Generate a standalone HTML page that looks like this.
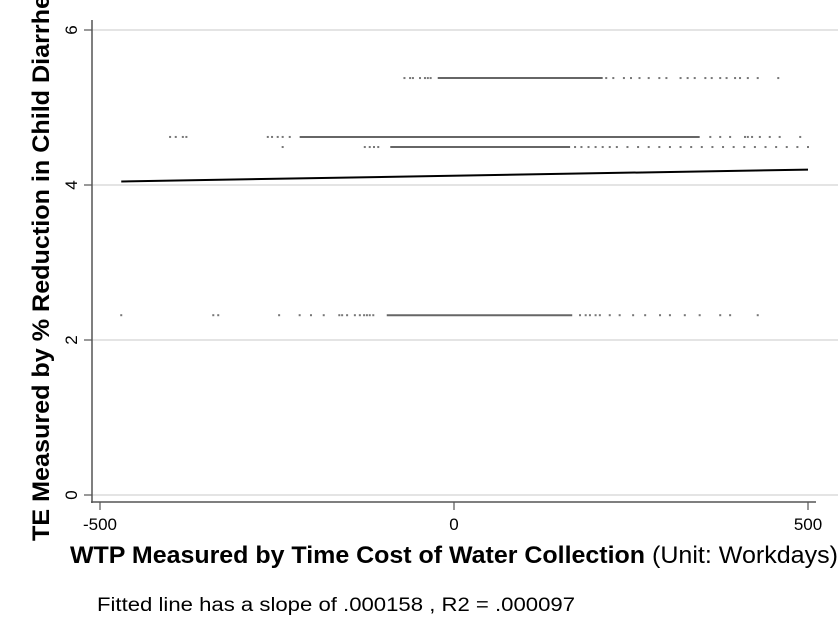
<!DOCTYPE html>
<html><head><meta charset="utf-8"><style>
html,body{margin:0;padding:0;background:#fff;}
svg{display:block;font-family:"Liberation Sans",Arial,sans-serif;}
</style></head><body>
<svg id="chart" width="839" height="643" viewBox="0 0 839 643" xmlns="http://www.w3.org/2000/svg">
<rect width="839" height="643" fill="#fff"/>
<g id="grid"></g>
<g id="marks"></g>
<g id="fit"></g>
<g id="axes"></g>
<text transform="translate(49,541) rotate(-90)" font-size="24" font-weight="bold" fill="#000" textLength="560" lengthAdjust="spacingAndGlyphs">TE Measured by % Reduction in Child Diarrhea</text>
<text x="70" y="563" font-size="24" fill="#000"><tspan font-weight="bold" textLength="575" lengthAdjust="spacingAndGlyphs">WTP Measured by Time Cost of Water Collection</tspan><tspan x="652" textLength="186" lengthAdjust="spacingAndGlyphs">(Unit: Workdays)</tspan></text>
<text x="97" y="611" font-size="19" fill="#000" textLength="478" lengthAdjust="spacingAndGlyphs">Fitted line has a slope of .000158 , R2 = .000097</text>
</svg>
<script>
const xTicks=[-500,0,500];
const yTicks=[0,2,4,6];
const rowY=[5.38,4.62,4.49,2.32];
const denseStart=[-23,-218,-90,-95];
const denseEnd=[210,347,164,167];
const sparseRow0=[-70,-62,-58,-48,-41,-37,-33,215,225,240,250,262,275,290,300,320,330,340,355,364,376,385,397,404,415,429,458];
const sparseRow1=[-401,-393,-383,-378,-263,-257,-249,-242,-232,362,376,390,411,415,421,432,446,460,489];
const sparseRow2=[-242,-126,-119,-113,-107,171,180,190,200,210,220,230,245,260,275,290,305,320,335,350,365,380,395,410,425,440,455,470,485,500];
const sparseRow3=[-470,-340,-333,-247,-218,-202,-184,-162,-158,-151,-140,-133,-127,-123,-119,-114,178,186,192,200,206,220,234,253,270,291,305,326,347,376,390,429];
const fitX=[-470,500];
const fitSlope=0.000158;
const fitIntercept=4.12;

const NS="http://www.w3.org/2000/svg";
const X=v=>454+v*0.708;
const Y=v=>495-v*77.5;
function mk(tag,attrs,parent){const e=document.createElementNS(NS,tag);for(const k in attrs)e.setAttribute(k,attrs[k]);parent.appendChild(e);return e;}
const grid=document.getElementById('grid'),axes=document.getElementById('axes'),marks=document.getElementById('marks'),fit=document.getElementById('fit');
yTicks.forEach(t=>{
  const g=mk('line',{x1:92,x2:838,y1:Y(t),y2:Y(t),stroke:'#c8c8c8','stroke-width':1},grid);
  
  
  const tk=mk('line',{x1:84,x2:92,y1:Y(t),y2:Y(t),stroke:'#555','stroke-width':1.2},axes);
  
  
  const lb=mk('text',{transform:`translate(77,${Y(t)}) rotate(-90)`,'text-anchor':'middle','font-size':17,fill:'#000'},axes);
  lb.textContent=t;
  
  
});
const ya=mk('line',{x1:92,x2:92,y1:20,y2:503,stroke:'#555','stroke-width':1.5},axes);


const xa=mk('line',{x1:91,x2:816,y1:502,y2:502,stroke:'#555','stroke-width':1.5},axes);


xTicks.forEach(t=>{
  const tk=mk('line',{x1:X(t),x2:X(t),y1:502,y2:510,stroke:'#555','stroke-width':1.2},axes);
  
  
  const lb=mk('text',{x:X(t),y:530,'text-anchor':'middle','font-size':17,fill:'#000'},axes);
  lb.textContent=t;
  
  
});
const sparse=[sparseRow0,sparseRow1,sparseRow2,sparseRow3];
rowY.forEach((ry,i)=>{
  const s=mk('line',{x1:X(denseStart[i]),x2:X(denseEnd[i]),y1:Y(ry),y2:Y(ry),stroke:'#666','stroke-width':2},marks);
  
  
  sparse[i].forEach(v=>{
    const p=mk('rect',{x:X(v)-1,y:Y(ry)-1,width:2,height:2,fill:'#777'},marks);
    
    
  });
});
const fl=mk('line',{x1:X(fitX[0]),x2:X(fitX[1]),y1:Y(fitIntercept+fitSlope*fitX[0]),y2:Y(fitIntercept+fitSlope*fitX[1]),stroke:'#000','stroke-width':2},fit);


</script>
</body></html>
